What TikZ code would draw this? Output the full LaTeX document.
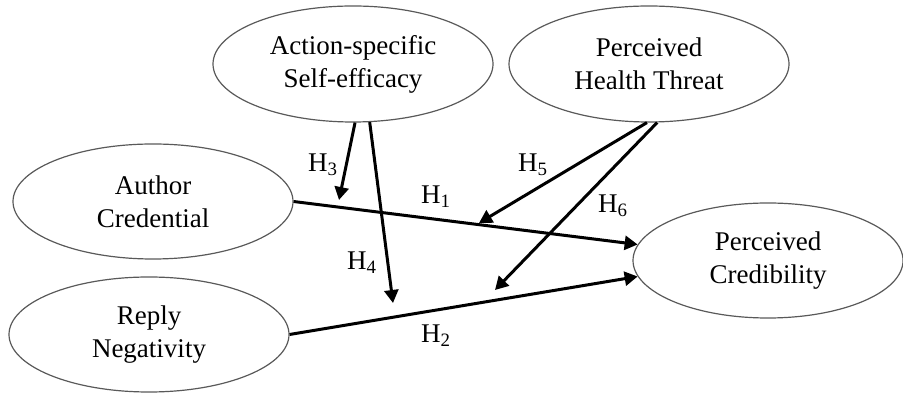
\documentclass[tikz,border=0pt]{standalone}
\usepackage{fontspec}
\setmainfont{Liberation Serif}
\usetikzlibrary{shapes.geometric,arrows.meta}
\begin{document}
\begin{tikzpicture}[x=0.5pt,y=-0.5pt,
  latent/.style={ellipse,draw=black!65,line width=0.6pt,inner sep=0pt,align=center,
    minimum width=140pt,minimum height=58pt,font=\fontsize{13.5}{16.5}\selectfont},
  hpath/.style={line width=1.5pt,-{Triangle[length=6.5pt,width=7pt]}},
  hlab/.style={font=\fontsize{13.5}{16}\selectfont,inner sep=0pt}]
\useasboundingbox (0,0) rectangle (903,394);
\node[latent] (ase) at (353,64) {Action-specific\\Self-efficacy};
\node[latent] (pht) at (649,64) {Perceived\\Health Threat};
\node[latent,minimum height=57.5pt] (ac) at (153,201.5) {Author\\Credential};
\node[latent,minimum height=57.5pt] (rn) at (149,334.5) {Reply\\Negativity};
\node[latent,minimum width=135pt,minimum height=57.5pt] (pc) at (768,260.5) {Perceived\\Credibility};
\coordinate (t3) at (339,200);
\coordinate (t4) at (393,303);
\coordinate (t5) at (479,223);
\coordinate (t6) at (495,290);
\draw[hpath] (ac.east) -- (pc.173);
\draw[hpath] (rn.east) -- (pc.187);
\draw[hpath] (ase.-88) -- (t3);
\draw[hpath] (ase.-74) -- (t4);
\draw[hpath] (pht.-92) -- (t5);
\draw[hpath] (pht.-82) -- (t6);
\node[hlab] (h1) at (436,197) {H\textsubscript{1}};
\node[hlab] (h2) at (436,336) {H\textsubscript{2}};
\node[hlab] (h3) at (323,165) {H\textsubscript{3}};
\node[hlab] (h4) at (362,263) {H\textsubscript{4}};
\node[hlab] (h5) at (533,165) {H\textsubscript{5}};
\node[hlab] (h6) at (613,206) {H\textsubscript{6}};
\end{tikzpicture}
\end{document}
